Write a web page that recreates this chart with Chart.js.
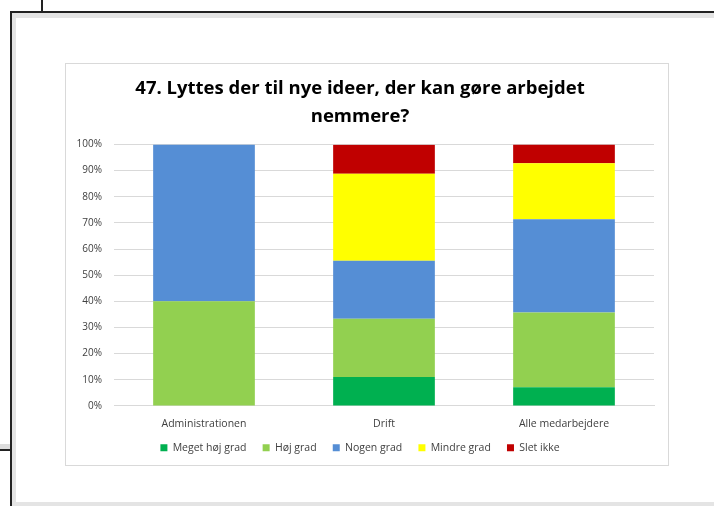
<!DOCTYPE html>
<html>
<head>
<meta charset="utf-8">
<script src="https://cdn.jsdelivr.net/npm/chart.js@4/dist/chart.umd.min.js"></script>
<style>
  body { margin: 0; background: #fff; width: 714px; height: 506px; position: relative; overflow: hidden; font-family: "Open Sans", sans-serif; }
  .ln { position: absolute; }
  #box { position: absolute; left: 65px; top: 63px; width: 602px; height: 401px; border: 1px solid #d9d9d9; background: #fff; }
</style>
</head>
<body>
<div class="ln" style="left:41px;top:0;width:2px;height:12px;background:#222"></div>
<div class="ln" style="left:10px;top:11px;width:704px;height:2px;background:#222"></div>
<div class="ln" style="left:12px;top:13px;width:702px;height:5px;background:#e4e4e4"></div>
<div class="ln" style="left:10px;top:11px;width:2px;height:495px;background:#222"></div>
<div class="ln" style="left:12px;top:13px;width:4px;height:493px;background:#e4e4e4"></div>
<div class="ln" style="left:0;top:444px;width:10px;height:5px;background:#ddd"></div>
<div class="ln" style="left:0;top:449px;width:10px;height:2px;background:#222"></div>
<div class="ln" style="left:16px;top:502px;width:698px;height:4px;background:#e4e4e4"></div>
<div id="box"><canvas id="c" width="602" height="401"></canvas></div>
<script>
const categories = ["Administrationen", "Drift", "Alle medarbejdere"];
const meget = [0, 11.1, 7.1];
const hoj = [40, 22.2, 28.6];
const nogen = [60, 22.2, 35.7];
const mindre = [0, 33.3, 21.4];
const slet = [0, 11.1, 7.2];
const yTicks = [0, 10, 20, 30, 40, 50, 60, 70, 80, 90, 100];

const ds = (label, data, color) => ({
  label: label,
  data: data,
  backgroundColor: color,
  borderWidth: 0,
  barPercentage: 0.565,
  categoryPercentage: 1,
});

new Chart(document.getElementById("c").getContext("2d"), {
  type: "bar",
  data: {
    labels: categories,
    datasets: [
      ds("Meget høj grad", meget, "#00b050"),
      ds("Høj grad", hoj, "#92d050"),
      ds("Nogen grad", nogen, "#558ed5"),
      ds("Mindre grad", mindre, "#ffff00"),
      ds("Slet ikke", slet, "#c00000"),
    ],
  },
  options: {
    responsive: false,
    animation: false,
    layout: { padding: { left: 0, right: 14, top: 11, bottom: 2 } },
    plugins: {
      title: {
        display: true,
        text: ["47. Lyttes der til nye ideer, der kan gøre arbejdet", "nemmere?"],
        color: "#000",
        font: { family: "Open Sans", size: 18.5, weight: "bold", lineHeight: 1.5 },
        padding: { top: 0, bottom: 14 },
      },
      legend: {
        position: "bottom",
        labels: {
          boxWidth: 7,
          boxHeight: 7,
          padding: 8,
          color: "#404040",
          font: { family: "Open Sans", size: 10.5 },
          // a little extra room between items, like the original
          generateLabels: (chart) =>
            Chart.defaults.plugins.legend.labels.generateLabels(chart).map((l, i, arr) => {
              if (i < arr.length - 1) l.text = l.text + "   ";
              return l;
            }),
        },
      },
      tooltip: { enabled: false },
    },
    scales: {
      x: {
        stacked: true,
        grid: { display: false },
        border: { color: "#d9d9d9" },
        ticks: { color: "#404040", font: { family: "Open Sans", size: 10.5 }, padding: 4 },
      },
      y: {
        stacked: true,
        min: 0,
        max: 100,
        afterFit: (s) => { s.width = 48; },
        afterBuildTicks: (s) => { s.ticks = yTicks.map((v) => ({ value: v })); },
        grid: { color: "#d9d9d9", drawTicks: true, tickLength: 10, tickColor: "#fff" },
        border: { display: false },
        ticks: {
          color: "#404040",
          font: { family: "Open Sans", size: 10 },
          padding: 2,
          callback: (v) => `${v}%`,
        },
      },
    },
  },
});
</script>
</body>
</html>
